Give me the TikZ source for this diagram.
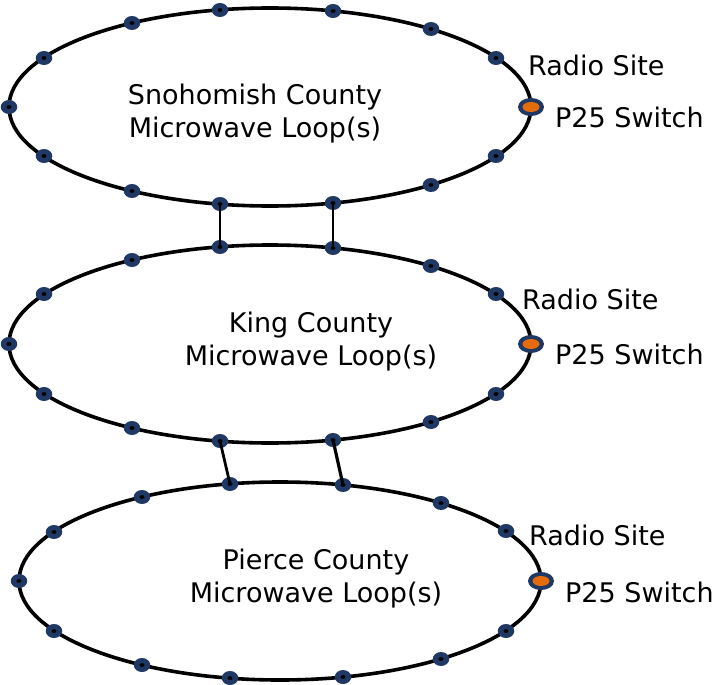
\documentclass[tikz,border=0pt]{standalone}
\usepackage{fontspec}
\setmainfont{DejaVu Sans}
\usetikzlibrary{shapes.geometric}
\definecolor{sitecol}{RGB}{31,56,100}
\definecolor{switchcol}{RGB}{228,108,10}

\begin{document}
\begin{tikzpicture}[x=1pt,y=-1pt,font=\fontsize{27}{33}\selectfont]%
\useasboundingbox (0,0) rectangle (720,685);
\draw[line width=3.6pt] (270,107) ellipse (261 and 99); %% Snohomish
\draw[line width=3.6pt] (270,344) ellipse (261 and 99); %% King
\draw[line width=3.6pt] (280,581) ellipse (261 and 99); %% Pierce
\begin{scope}[shape=ellipse,inner sep=0pt]%
\tikzstyle{every node}=[fill=sitecol,minimum width=16.5pt,minimum height=14pt,
  path picture={\fill[black] (path picture bounding box.center) ellipse (2.5 and 1.9);}] %%
\tikzstyle{switch}=[minimum width=26pt,minimum height=18pt,
  path picture={\fill[switchcol] (path picture bounding box.center) ellipse (8.5 and 5);}] %%
\node[switch] (s1) at (531,107) {}; %%
\node (s2) at (496,58) {}; %%
\node (s3) at (431,29) {}; %%
\node (s4) at (333,11) {}; %%
\node (s5) at (220,10) {}; %%
\node (s6) at (132,23) {}; %%
\node (s7) at (44,58) {}; %%
\node (s8) at (9,107) {}; %%
\node (s9) at (44,156) {}; %%
\node (s10) at (132,191) {}; %%
\node (s11) at (220,204) {}; %%
\node (s12) at (333,203) {}; %%
\node (s13) at (431,185) {}; %%
\node (s14) at (496,156) {}; %%
\node[switch] (k1) at (531,344) {}; %%
\node (k2) at (496,294) {}; %%
\node (k3) at (431,266) {}; %%
\node (k4) at (333,248) {}; %%
\node (k5) at (220,247) {}; %%
\node (k6) at (132,260) {}; %%
\node (k7) at (44,294) {}; %%
\node (k8) at (9,344) {}; %%
\node (k9) at (44,394) {}; %%
\node (k10) at (132,428) {}; %%
\node (k11) at (220,441) {}; %%
\node (k12) at (333,440) {}; %%
\node (k13) at (431,422) {}; %%
\node (k14) at (496,394) {}; %%
\node[switch] (p1) at (541,581) {}; %%
\node (p2) at (506,531) {}; %%
\node (p3) at (441,503) {}; %%
\node (p4) at (343,485) {}; %%
\node (p5) at (230,484) {}; %%
\node (p6) at (142,497) {}; %%
\node (p7) at (54,532) {}; %%
\node (p8) at (19,581) {}; %%
\node (p9) at (54,631) {}; %%
\node (p10) at (142,665) {}; %%
\node (p11) at (230,678) {}; %%
\node (p12) at (343,677) {}; %%
\node (p13) at (441,659) {}; %%
\node (p14) at (506,631) {}; %%
\end{scope}
\node[anchor=base,align=center] (snoho) at (255,137) {Snohomish County\\Microwave Loop(s)};%
\node[anchor=base,align=center] (king) at (311,365) {King County\\Microwave Loop(s)};%
\node[anchor=base,align=center] (pierce) at (316,602) {Pierce County\\Microwave Loop(s)};%
\node[anchor=base west,inner sep=0pt] (sradio) at (528,76) {Radio Site};%
\node[anchor=base west,inner sep=0pt] (sp25) at (555,127) {P25 Switch};%
\node[anchor=base west,inner sep=0pt] (kradio) at (522,309) {Radio Site};%
\node[anchor=base west,inner sep=0pt] (kp25) at (555,364) {P25 Switch};%
\node[anchor=base west,inner sep=0pt] (pradio) at (529,545) {Radio Site};%
\node[anchor=base west,inner sep=0pt] (pp25) at (565,602) {P25 Switch};%
\draw[line width=2.8pt] (s11.center)--(k5.center); %%
\draw[line width=2.8pt] (s12.center)--(k4.center); %%
\draw[line width=2.8pt] (k11.center)--(p5.center); %%
\draw[line width=3.2pt] (k12.center)--(p4.center); %%
\end{tikzpicture}
\end{document}
